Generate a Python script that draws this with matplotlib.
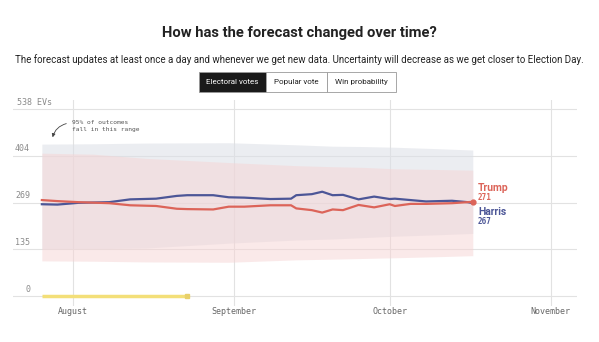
import numpy as np
import pandas as pd
import matplotlib
matplotlib.use('Agg')
import matplotlib.pyplot as plt
import matplotlib.dates as mdates
from matplotlib.transforms import blended_transform_factory

# Forecast lines (electoral votes)
line_dates = pd.to_datetime([
    '2024-07-26', '2024-07-29', '2024-08-02', '2024-08-08', '2024-08-12',
    '2024-08-17', '2024-08-21', '2024-08-23', '2024-08-28', '2024-08-31',
    '2024-09-03', '2024-09-08', '2024-09-12', '2024-09-13', '2024-09-16',
    '2024-09-18', '2024-09-20', '2024-09-22', '2024-09-25', '2024-09-28',
    '2024-10-01', '2024-10-02', '2024-10-05', '2024-10-08', '2024-10-13',
    '2024-10-16', '2024-10-17'])
trump_ev = [276, 273, 270, 267, 261, 259, 251, 250, 249, 257,
            257, 261, 261, 252, 247, 240, 249, 247, 262, 255,
            264, 259, 265, 265, 267, 270, 271]
harris_ev = [264, 263, 268, 270, 278, 280, 288, 290, 290, 284,
             283, 279, 280, 290, 293, 300, 290, 291, 278, 286,
             279, 280, 276, 272, 274, 270, 267]

# 95% ranges
band_dates = pd.to_datetime(['2024-07-26', '2024-08-05', '2024-08-15', '2024-08-31',
                             '2024-09-13', '2024-09-20', '2024-09-26', '2024-10-02',
                             '2024-10-10', '2024-10-17'])
harris_hi = [437, 438, 440, 441, 435, 431, 430, 428, 424, 420]
harris_lo = [135, 136, 138, 152, 161, 164, 168, 172, 176, 180]
trump_hi = [411, 408, 396, 384, 375, 372, 370, 366, 364, 362]
trump_lo = [101, 100, 98, 97, 104, 106, 108, 110, 113, 116]

# yellow bar on the zero line
yellow_dates = pd.to_datetime(['2024-07-26', '2024-08-23'])
yellow_ev = [0, 0]

y_ticks = [0, 135, 269, 404, 538]
y_labels = ['0', '135', '269', '404', '538 EVs']
x_ticks = pd.to_datetime(['2024-08-01', '2024-09-01', '2024-10-01', '2024-11-01'])
x_labels = ['August', 'September', 'October', 'November']

W, H = 599, 342
fig = plt.figure(figsize=(W / 100, H / 100), dpi=100)
fig.patch.set_facecolor('white')

sans = 'Roboto'
mono = 'DejaVu Sans Mono'
grey = '#8a8a8a'

# axes placed in pixel positions
ax = fig.add_axes([13 / W, (H - 306) / H, (577 - 13) / W, (306 - 100) / H])
aug1 = mdates.date2num(pd.Timestamp('2024-08-01'))
px_day = 5.192
ax.set_xlim(aug1 + (13 - 73) / px_day, aug1 + (577 - 73) / px_day)
px_ev = (296 - 109) / 538
ax.set_ylim(-(306 - 296) / px_ev, (296 - 100) / px_ev)

for s in ax.spines.values():
    s.set_visible(False)
ax.set_xticks(x_ticks)
ax.set_xticklabels([])
ax.set_yticks(y_ticks)
ax.set_yticklabels([])
ax.tick_params(length=0)
ax.grid(True, color='#e2e2e2', linewidth=0.8)
ax.set_axisbelow(True)

# bands
ax.fill_between(band_dates, harris_lo, harris_hi, color='#dcdfe6', alpha=0.55, linewidth=0, zorder=1)
ax.fill_between(band_dates, trump_lo, trump_hi, color='#f6d4d4', alpha=0.5, linewidth=0, zorder=1)

# lines
red = '#dc6459'
blue = '#4c5697'
ax.plot(line_dates, harris_ev, color=blue, lw=1.6, zorder=3)
ax.plot(line_dates, trump_ev, color=red, lw=1.6, zorder=3)
ax.plot(line_dates[-1:], trump_ev[-1:], 'o', color=red, ms=3.5, zorder=4)

ax.plot(yellow_dates, yellow_ev, color='#f3df78', lw=2.5, solid_capstyle='butt', zorder=3)
ax.plot(yellow_dates[-1:], yellow_ev[-1:], 's', color='#e8d06a', ms=3, zorder=4)

# y labels above gridlines
tr = blended_transform_factory(ax.transAxes, ax.transData)
for v, lab in zip(y_ticks, y_labels):
    if lab.endswith('EVs'):
        ax.text((17 - 13) / (577 - 13), v + 20, lab, transform=tr,
                ha='left', va='center', fontsize=6, family=mono, color=grey)
    else:
        ax.text((30 - 13) / (577 - 13), v + 20, lab, transform=tr,
                ha='right', va='center', fontsize=6, family=mono, color=grey)

# x labels
for d, lab in zip(x_ticks, x_labels):
    fig.text((73 + (mdates.date2num(d) - aug1) * px_day) / W, 1 - 311 / H, lab,
             ha='center', va='center', fontsize=6, family=mono, color='#666666')

# end labels
end = line_dates[-1] + pd.Timedelta(days=1)
ax.text(end, trump_ev[-1] + 40, 'Trump', color=red, fontsize=7.5, fontweight='bold', family=sans, va='center')
ax.text(end, trump_ev[-1] + 11, str(trump_ev[-1]), color=red, fontsize=5.5, fontweight='bold', family=mono, va='center')
ax.text(end, harris_ev[-1] - 26, 'Harris', color=blue, fontsize=7.5, fontweight='bold', family=sans, va='center')
ax.text(end, harris_ev[-1] - 54, str(harris_ev[-1]), color=blue, fontsize=5.5, fontweight='bold', family=mono, va='center')

# annotation
fig.text(72 / W, 1 - 126 / H, '95% of outcomes\nfall in this range', fontsize=4.5, family=mono,
         color='#555555', va='center', ha='left', linespacing=1.5)
ax.annotate('', xy=(52 / W, 1 - 140 / H), xycoords='figure fraction',
            xytext=(69 / W, 1 - 123 / H), textcoords='figure fraction',
            arrowprops=dict(arrowstyle='-|>', color='#444444', lw=0.6,
                            connectionstyle='arc3,rad=0.35', mutation_scale=5))

# titles
fig.text(0.5, 1 - 33 / H, 'How has the forecast changed over time?', ha='center', va='center',
         fontsize=10.6, fontweight='bold', family=sans, color='#222222')
fig.text(0.5, 1 - 60 / H, 'The forecast updates at least once a day and whenever we get new data. '
         'Uncertainty will decrease as we get closer to Election Day.', ha='center', va='center',
         fontsize=7.0, family=sans, color='#222222')

# toggle buttons
buttons = ['Electoral votes', 'Popular vote', 'Win probability']
edges = [199, 266, 327, 396]
for i, lab in enumerate(buttons):
    x0, x1 = edges[i], edges[i + 1]
    active = i == 0
    fig.patches.append(plt.Rectangle((x0 / W, 1 - 92 / H), (x1 - x0) / W, 20 / H,
                                     transform=fig.transFigure,
                                     facecolor='#1a1a1a' if active else 'white',
                                     edgecolor='#999999', lw=0.6))
    fig.text((x0 + x1) / 2 / W, 1 - 82 / H, lab, ha='center', va='center', fontsize=5.8,
             family=sans, color='white' if active else '#222222')

fig.savefig('out.png', dpi=100)
